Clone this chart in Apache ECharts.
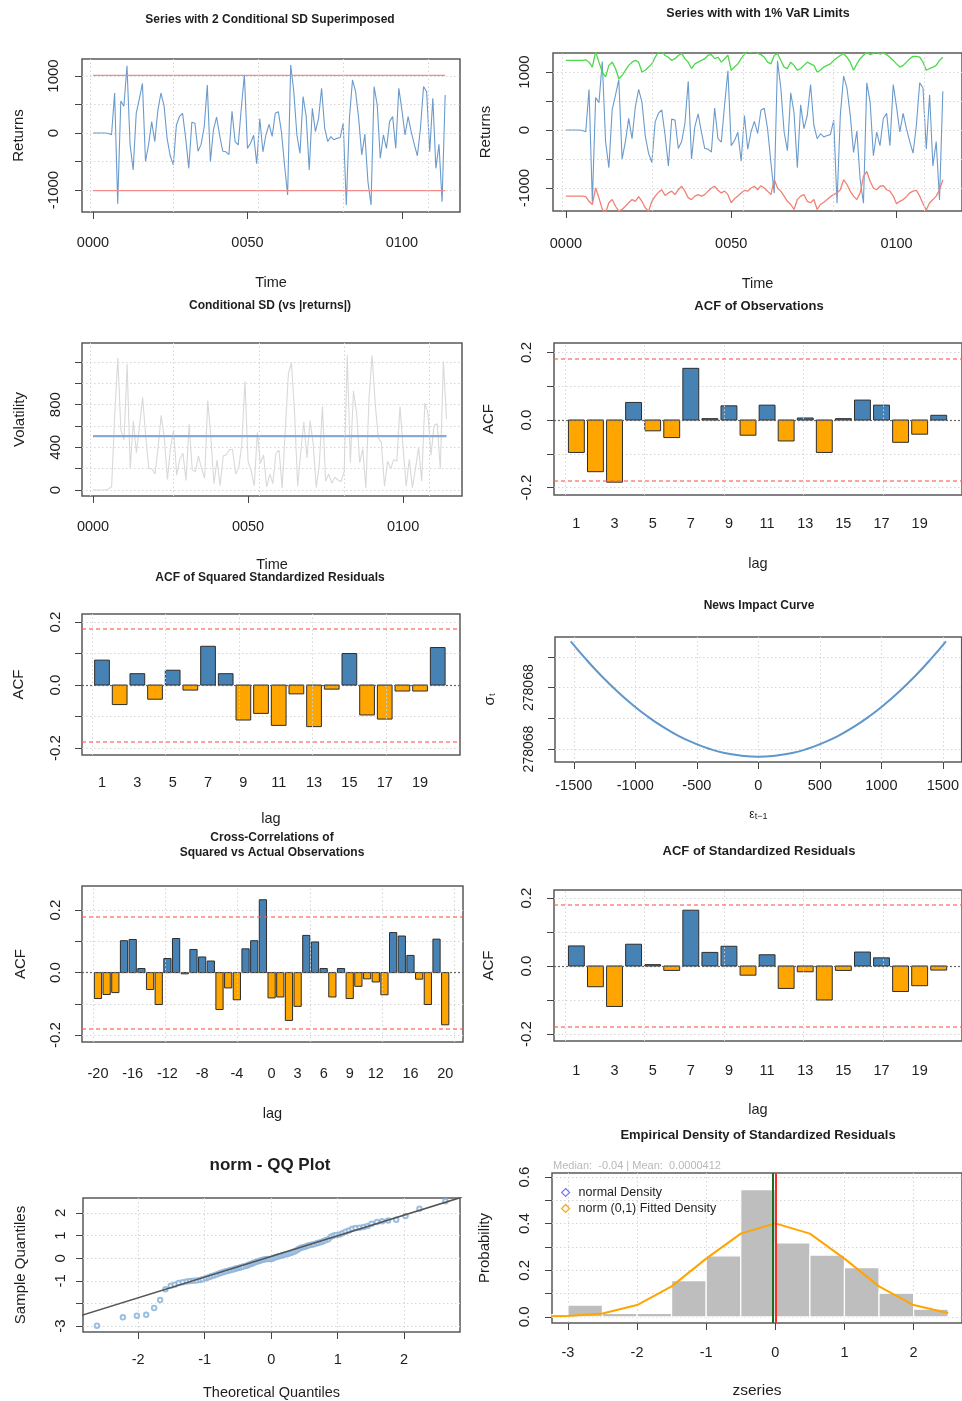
<!DOCTYPE html>
<html><head><meta charset="utf-8">
<script src="https://cdn.jsdelivr.net/npm/echarts@6/dist/echarts.min.js"></script>
<style>html,body{margin:0;padding:0;background:#fff}#c{width:962px;height:1401px}</style>
</head><body><div id="c"></div>
<script>
// ---------------- DATA ----------------
const returns = [0,0,0,0,0,-10,-30,700,-1240,560,
 470,1180,-200,-650,350,600,870,-500,-200,200,
 -150,400,700,480,-100,-400,-560,140,290,345,
 -90,-620,190,170,-320,-200,110,840,-500,60,
 280,-40,-320,-330,-380,380,-150,-210,430,1020,
 -270,-180,-40,-540,250,-330,-30,150,-60,345,
 374,20,-561,-1088,1193,725,-35,-357,640,300,
 -650,433,23,250,784,82,-150,-64,-120,-94,
 -80,170,-1263,257,930,725,257,-386,-20,-854,
 -1263,813,491,-444,-35,-269,199,287,-269,784,
 400,-35,287,23,-200,-400,82,813,725,-327,
 608,-620,-200,-1205,667];
const varUpper = [1200,1200,1200,1200,1200,1200,1210,1170,1085,1350,
 1170,1000,915,1115,1170,1060,885,940,1030,1115,
 1170,1200,1170,1000,1030,1085,1140,1255,1340,1360,
 1285,1255,1200,1230,1285,1320,1230,1170,1060,1140,
 1170,1200,1230,1290,1300,1230,1255,1170,1230,1290,
 1030,1085,1140,1230,1310,1360,1340,1380,1320,1300,
 1255,1170,1140,1285,1320,1200,1085,1060,1170,1115,
 1030,1060,1115,1170,1140,1115,1000,1030,1085,1115,
 1140,1200,1245,1285,1320,1255,1170,1030,1140,1230,
 1290,1340,1300,1320,1350,1310,1330,1300,1255,1200,
 1140,1085,1115,1170,1230,1270,1270,1255,1170,1030,
 1060,1085,1115,1200,1255];
const varLower = [-1142,-1142,-1142,-1142,-1142,-1142,-1150,-1230,-1285,-1000,
 -1170,-1370,-1430,-1255,-1200,-1315,-1400,-1370,-1315,-1255,
 -1200,-1230,-1150,-1230,-1340,-1400,-1230,-1140,-1075,-1030,
 -1130,-1085,-1055,-1115,-1030,-970,-1055,-1170,-1200,-1140,
 -1115,-1140,-1115,-1055,-1000,-970,-1040,-1085,-1055,-1115,
 -1255,-1185,-1140,-1085,-1040,-1055,-1000,-970,-1030,-960,
 -1000,-1055,-1115,-850,-1000,-1055,-1140,-1230,-1285,-1370,
 -1200,-1140,-1115,-1230,-1255,-1200,-1370,-1285,-1245,-1200,
 -1150,-1115,-1085,-1030,-857,-940,-1055,-1140,-1200,-1085,
 -800,-715,-885,-1000,-1030,-970,-960,-1030,-1055,-1140,
 -1270,-1230,-1200,-1150,-1085,-1055,-1040,-1140,-1270,-1380,
 -1255,-1200,-1140,-1030,-857];
const condSD = 505;
const timeTickValues = [0, 50, 100];
const timeGridValues = [-1, 26, 53.5, 81, 108.5];
const returnsTicks = [-1000, -500, 0, 500, 1000];
const returnsLabels = [-1000, 0, 1000];
const volTicks = [0, 200, 400, 600, 800, 1000, 1200];
const volLabels = [0, 400, 800];

const acfLags = [1,2,3,4,5,6,7,8,9,10,11,12,13,14,15,16,17,18,19,20];
const acfObs = [-0.096,-0.153,-0.184,0.052,-0.032,-0.052,0.153,0.004,0.042,-0.045,
 0.044,-0.062,0.006,-0.096,0.004,0.059,0.044,-0.066,-0.042,0.014];
const acfSqStdRes = [0.079,-0.062,0.036,-0.045,0.047,-0.016,0.123,0.036,-0.111,-0.090,
 -0.128,-0.028,-0.132,-0.013,0.100,-0.095,-0.108,-0.019,-0.019,0.119];
const acfStdRes = [0.059,-0.061,-0.119,0.064,0.004,-0.013,0.164,0.040,0.058,-0.027,
 0.033,-0.066,-0.017,-0.100,-0.013,0.041,0.024,-0.075,-0.058,-0.012];
const acfBound = 0.1828;
const acfTicks = [-0.2, -0.1, 0, 0.1, 0.2];
const acfLabels = [-0.2, 0, 0.2];
const acfLagLabels = [1,3,5,7,9,11,13,15,17,19];
const acfGridLags = [0.417, 4.583, 8.75, 12.917, 17.083];

const ccfLags = [-20,-19,-18,-17,-16,-15,-14,-13,-12,-11,-10,-9,-8,-7,-6,-5,-4,-3,-2,-1,
 0,1,2,3,4,5,6,7,8,9,10,11,12,13,14,15,16,17,18,19,20];
const ccfVals = [-0.083,-0.070,-0.064,0.102,0.106,0.013,-0.054,-0.102,0.045,0.109,
 -0.004,0.074,0.050,0.037,-0.118,-0.049,-0.087,0.076,0.102,0.233,
 -0.081,-0.078,-0.153,-0.108,0.119,0.098,0.013,-0.078,0.013,-0.083,
 -0.044,-0.020,-0.030,-0.071,0.128,0.117,0.055,-0.021,-0.102,0.107,-0.167];
const ccfLagLabels = [-20,-16,-12,-8,-4,0,3,6,9,12,16,20];
const ccfGridLags = [-20.58, -12.25, -3.92, 4.42, 12.75, 21.08];

const newsEps = [-1525,-1400,-1275,-1150,-1025,-900,-775,-650,-525,-400,-275,-150,0,
 150,275,400,525,650,775,900,1025,1150,1275,1400,1525];
const newsVar = [4.51,3.92,3.38,2.89,2.45,2.06,1.72,1.43,1.20,1.01,0.87,0.79,0.75,
 0.79,0.87,1.01,1.20,1.43,1.72,2.06,2.45,2.89,3.38,3.92,4.51];
const newsXTicks = [-1500,-1000,-500,0,500,1000,1500];
const newsYTicks = [1, 2, 3, 4];
const newsYLabels = [1, 3];
const newsYLabelText = '278068';

const qqTheo = [-2.62,-2.23,-2.02,-1.88,-1.76,-1.67,-1.59,-1.51,-1.45,-1.39,-1.33,-1.27,-1.22,-1.17,-1.12,-1.07,-1.03,-0.98,-0.94,-0.90,
 -0.86,-0.82,-0.78,-0.75,-0.71,-0.68,-0.64,-0.61,-0.57,-0.54,-0.51,-0.48,-0.45,-0.42,-0.38,-0.35,-0.32,-0.29,-0.27,-0.24,
 -0.21,-0.18,-0.15,-0.12,-0.09,-0.06,-0.03,0.00,0.03,0.06,0.09,0.12,0.15,0.18,0.21,0.24,0.27,0.30,0.33,0.36,
 0.39,0.42,0.45,0.48,0.51,0.54,0.57,0.61,0.64,0.68,0.71,0.75,0.78,0.82,0.86,0.90,0.94,0.98,1.03,1.07,
 1.12,1.17,1.22,1.27,1.33,1.39,1.45,1.51,1.59,1.67,1.76,1.88,2.02,2.23,2.62];
const qqSample = [-2.98,-2.61,-2.54,-2.50,-2.20,-1.85,-1.37,-1.22,-1.17,-1.10,-1.06,-1.03,-1.01,-1.00,-0.98,-0.96,-0.93,-0.88,-0.84,-0.80,
 -0.76,-0.72,-0.68,-0.64,-0.61,-0.58,-0.55,-0.52,-0.50,-0.47,-0.44,-0.42,-0.40,-0.37,-0.34,-0.31,-0.27,-0.24,-0.21,-0.18,
 -0.15,-0.12,-0.09,-0.07,-0.05,-0.04,-0.04,-0.03,0.00,0.04,0.07,0.09,0.11,0.14,0.16,0.19,0.21,0.24,0.27,0.31,
 0.36,0.42,0.46,0.48,0.51,0.54,0.57,0.60,0.62,0.65,0.68,0.71,0.75,0.79,0.84,0.95,1.00,1.02,1.05,1.10,
 1.17,1.22,1.30,1.33,1.35,1.38,1.42,1.52,1.60,1.63,1.67,1.70,1.86,2.18,2.52];
const qqLineEnds = [[-3, -2.66], [3, 2.82]];
const qqXTicks = [-2,-1,0,1,2];
const qqYTicks = [-3,-2,-1,0,1,2];
const qqYLabels = [-3,-1,0,1,2];

const histEdges = [-3.5,-3,-2.5,-2,-1.5,-1,-0.5,0,0.5,1,1.5,2,2.5];
const histDensity = [0.010,0.051,0.015,0.015,0.156,0.262,0.546,0.317,0.265,0.211,0.102,0.033];
const fitX = [-3.5,-3,-2.5,-2,-1.5,-1,-0.5,0,0.5,1,1.5,2,2.5];
const fitY = [0.001,0.004,0.015,0.051,0.131,0.250,0.357,0.401,0.357,0.250,0.131,0.051,0.017];
const medianZ = -0.04, meanZ = 0.0000412;
const histXTicks = [-3,-2,-1,0,1,2];
const histYTicks = [0,0.1,0.2,0.3,0.4,0.5,0.6];
const histYLabels = [0,0.2,0.4,0.6];

// ---------------- STYLE / LAYOUT ----------------
const FONT = '"Liberation Sans", Arial, Helvetica, sans-serif';
const TXT = '#1e1e1e';
const GRIDC = '#d4d4d4';
const BLUE = '#4682b4', ORANGE = '#ffa500';
const dotted = {color: GRIDC, type: [1.5, 2.5], width: 1};

const gridBoxes = [
  [82,59,378,153],[553,53,412,158],
  [82,343,380,153],[554,343,414,152],
  [82,614,378,141],[555,637,410,125],
  [82,886,381,156],[554,890,414,151],
  [83,1198,377,135],[552,1173,414,150]
];
const grids = gridBoxes.map(([l,t,w,h]) => ({left:l, top:t, width:w, height:h, show:true,
  borderColor:'#5a5a5a', borderWidth:1.5, backgroundColor:'#fff'}));

const has = (list, v) => list.some(l => Math.abs(l - v) < 1e-7);
function xAx(gi, min, max, o) {
  return {type:'value', gridIndex:gi, min, max, position:'bottom',
    axisLine:{show:false, onZero:false},
    axisTick:{show: !!o.ticks, customValues: o.ticks, length:7, inside:false, lineStyle:{color:'#444', width:1}},
    axisLabel:{customValues:o.labels, formatter:(v)=> has(o.labels, v) ? o.fmt(v) : '',
      margin:o.margin, fontSize:o.fs || 14.5, color:TXT, fontFamily:FONT, hideOverlap:false},
    splitLine:{show: !!o.split, lineStyle: dotted},
    name:o.name, nameLocation:'middle', nameGap:o.nameGap,
    nameTextStyle:Object.assign({fontSize:o.nfs || 14.5, color:TXT, fontFamily:FONT}, o.nts || {})};
}
function yAx(gi, min, max, o) {
  return {type:'value', gridIndex:gi, min, max, position:'left',
    axisLine:{show:false, onZero:false},
    axisTick:{show:true, customValues:o.ticks, length:7, inside:false, lineStyle:{color:'#444', width:1}},
    axisLabel:{customValues:o.labels, formatter:(v)=> has(o.labels, v) ? o.fmt(v) : '',
      rotate:90, margin:o.margin, fontSize:o.fs || 15, color:TXT, fontFamily:FONT, hideOverlap:false},
    splitLine:{show:true, lineStyle: dotted},
    name:o.name, nameLocation:'middle', nameGap:o.nameGap,
    nameTextStyle:Object.assign({fontSize:15, color:TXT, fontFamily:FONT}, o.nts || {})};
}
const pad4 = v => String(Math.round(v)).padStart(4, '0');
const int = v => String(Math.round(v));
const f1 = v => (Math.abs(v) < 1e-9 ? 0 : v).toFixed(1);

const xAxes = [
  xAx(0, -3.56, 118.8, {ticks:timeTickValues, labels:timeTickValues, fmt:pad4, margin:23, name:'Time', nameGap:63}),
  xAx(1, -3.9, 119.8, {ticks:timeTickValues, labels:timeTickValues, fmt:pad4, margin:25, name:'Time', nameGap:65}),
  xAx(2, -3.55, 119.0, {ticks:timeTickValues, labels:timeTickValues, fmt:pad4, margin:23, name:'Time', nameGap:61}),
  xAx(3, -0.173, 21.22, {labels:acfLagLabels, fmt:int, margin:21, name:'lag', nameGap:61}),
  xAx(4, -0.132, 21.26, {labels:acfLagLabels, fmt:int, margin:20, name:'lag', nameGap:56}),
  xAx(5, -1653, 1653, {ticks:newsXTicks, labels:newsXTicks, fmt:int, margin:16, split:true,
     name:'ε{s|t−1}', nameGap:47, nfs:12, nts:{rich:{s:{fontSize:9, verticalAlign:'bottom', fontFamily:FONT, color:TXT}}}}),
  xAx(6, -21.84, 22.05, {labels:ccfLagLabels, fmt:int, margin:24, name:'lag', nameGap:64}),
  xAx(7, -0.173, 21.22, {labels:acfLagLabels, fmt:int, margin:22, name:'lag', nameGap:61}),
  xAx(8, -2.83, 2.84, {ticks:qqXTicks, labels:qqXTicks, fmt:int, margin:20, split:true, name:'Theoretical Quantiles', nameGap:53}),
  xAx(9, -3.23, 2.70, {ticks:histXTicks, labels:histXTicks, fmt:int, margin:22, split:true, name:'zseries', nameGap:60, nfs:15.5})
];
const yAxes = [
  yAx(0, -1386, 1298, {ticks:returnsTicks, labels:returnsLabels, fmt:int, margin:21, name:'Returns', nameGap:56}),
  yAx(1, -1397, 1328, {ticks:returnsTicks, labels:returnsLabels, fmt:int, margin:21, name:'Returns', nameGap:60}),
  yAx(2, -56, 1378, {ticks:volTicks, labels:volLabels, fmt:int, margin:19, name:'Volatility', nameGap:55}),
  yAx(3, -0.222, 0.228, {ticks:acfTicks, labels:acfLabels, fmt:f1, margin:20, name:'ACF', nameGap:58}),
  yAx(4, -0.222, 0.2254, {ticks:acfTicks, labels:acfLabels, fmt:f1, margin:19, name:'ACF', nameGap:56}),
  yAx(5, 0.577, 4.65, {ticks:newsYTicks, labels:newsYLabels, fmt:()=>newsYLabelText, margin:19, fs:14,
     name:'σ{s|t}', nameGap:58, nts:{rich:{s:{fontSize:9, verticalAlign:'bottom', fontFamily:FONT, color:TXT}}}}),
  yAx(6, -0.222, 0.277, {ticks:acfTicks, labels:acfLabels, fmt:f1, margin:19, name:'ACF', nameGap:54}),
  yAx(7, -0.2206, 0.2235, {ticks:acfTicks, labels:acfLabels, fmt:f1, margin:20, name:'ACF', nameGap:58}),
  yAx(8, -3.26, 2.66, {ticks:qqYTicks, labels:qqYLabels, fmt:int, margin:15, name:'Sample Quantiles', nameGap:55}),
  yAx(9, -0.026, 0.617, {ticks:histYTicks, labels:histYLabels, fmt:f1, margin:20, name:'Probability', nameGap:60})
];

function vGrid(gi, values) {
  return {type:'line', xAxisIndex:gi, yAxisIndex:gi, data:[], silent:true, z:1,
    markLine:{silent:true, symbol:'none', label:{show:false}, lineStyle:dotted, animation:false,
      data: values.map(v => ({xAxis:v}))}};
}
function acfBars(gi, lags, vals) {
  const hw = 0.5 / 1.2;
  return {type:'custom', xAxisIndex:gi, yAxisIndex:gi, z:3,
    data: lags.map((l, i) => [l, vals[i]]), encode:{x:0, y:1},
    renderItem:(params, api) => {
      const x = api.value(0), y = api.value(1);
      const p0 = api.coord([x - hw, y]), p1 = api.coord([x + hw, 0]);
      return {type:'rect', shape:{x:p0[0], y:Math.min(p0[1], p1[1]), width:p1[0]-p0[0], height:Math.abs(p1[1]-p0[1])},
        style:{fill: y >= 0 ? BLUE : ORANGE, stroke:'#2e2e2e', lineWidth:1}};
    }};
}
const RED_DASH = {color:'#ff5a52', type:[4,3], width:1.5, opacity:0.75};
const ZERO_DOT = {color:'#666', type:[2,2], width:1.2};
function hMark(gi, value, style) {
  return {type:'line', xAxisIndex:gi, yAxisIndex:gi, data:[], silent:true, z:5,
    markLine:{silent:true, symbol:'none', label:{show:false}, animation:false, lineStyle:style,
      data:[{yAxis:value}]}};
}
function acfMarks(gi, bound) {
  return [hMark(gi, bound, RED_DASH), hMark(gi, -bound, RED_DASH), hMark(gi, 0, ZERO_DOT)];
}
const line = (gi, data, color, width, extra) => Object.assign({type:'line', xAxisIndex:gi, yAxisIndex:gi,
  data, showSymbol:false, symbol:'none', lineStyle:{color, width}, itemStyle:{color}, silent:true, z:3}, extra || {});

const n = returns.length;
const series = [
  // P1
  vGrid(0, timeGridValues),
  line(0, returns.map((v,i)=>[i,v]), '#6a9bcc', 1.1),
  line(0, [[0, 2*condSD],[n-1, 2*condSD]], '#f48a8a', 1.2),
  line(0, [[0, -2*condSD],[n-1, -2*condSD]], '#f48a8a', 1.2),
  // P2
  vGrid(1, timeGridValues),
  line(1, returns.map((v,i)=>[i,v]), '#6a9bcc', 1.1),
  line(1, varUpper.map((v,i)=>[i,v]), '#4cd94c', 1.3),
  line(1, varLower.map((v,i)=>[i,v]), '#ef8276', 1.3),
  // P3
  vGrid(2, timeGridValues),
  line(2, returns.map((v,i)=>[i,Math.abs(v)]), '#d9d9d9', 1.1),
  line(2, [[0, condSD],[n-1, condSD]], '#86acd4', 2.2),
  // P4
  vGrid(3, acfGridLags), acfBars(3, acfLags, acfObs), ...acfMarks(3, acfBound),
  // P5
  vGrid(4, acfGridLags), acfBars(4, acfLags, acfSqStdRes), ...acfMarks(4, acfBound),
  // P6
  line(5, newsEps.map((v,i)=>[v,newsVar[i]]), '#5f97cc', 2, {smooth:true}),
  // P7
  vGrid(6, ccfGridLags), acfBars(6, ccfLags, ccfVals), ...acfMarks(6, acfBound),
  // P8
  vGrid(7, acfGridLags), acfBars(7, acfLags, acfStdRes), ...acfMarks(7, acfBound),
  // P9
  line(8, qqLineEnds, '#555', 1.6, {z:4}),
  {type:'scatter', xAxisIndex:8, yAxisIndex:8, data:qqTheo.map((v,i)=>[v,qqSample[i]]), symbol:'emptyCircle',
    symbolSize:4.5, itemStyle:{color:'#8db4dc', borderColor:'#8db4dc', borderWidth:1, opacity:0.85}, silent:true, z:3},
  // P10
  {type:'custom', xAxisIndex:9, yAxisIndex:9, z:2, silent:true,
    data: histDensity.map((h,i)=>[histEdges[i], histEdges[i+1], h]), encode:{x:[0,1], y:2},
    renderItem:(params, api) => {
      const p0 = api.coord([api.value(0), api.value(2)]), p1 = api.coord([api.value(1), 0]);
      const shape = echarts.graphic.clipRectByRect({x:p0[0], y:p0[1], width:p1[0]-p0[0], height:p1[1]-p0[1]},
        {x:params.coordSys.x, y:params.coordSys.y, width:params.coordSys.width, height:params.coordSys.height});
      return shape && {type:'rect', shape, style:{fill:'#bebebe', stroke:'#fff', lineWidth:1.2}};
    }},
  line(9, [], '#7777ff', 1, {name:'normal Density'}),
  line(9, fitX.map((v,i)=>[v,fitY[i]]), ORANGE, 2, {name:'norm (0,1) Fitted Density', z:4}),
  {type:'line', xAxisIndex:9, yAxisIndex:9, data:[], silent:true, z:6,
    markLine:{silent:true, symbol:'none', label:{show:false}, animation:false,
      data:[{xAxis:medianZ, lineStyle:{color:'#1b6e1b', type:'solid', width:2}},
            {xAxis:meanZ, lineStyle:{color:'#ff2b2b', type:'solid', width:2}}]}}
];

function title(x, y, text, size) {
  return {type:'text', x, y, silent:true,
    style:{text, font:`bold ${size}px ${FONT}`, fill:TXT, align:'center', verticalAlign:'middle',
      textAlign:'center', textVerticalAlign:'middle'}};
}
const graphics = [
  title(270, 20, 'Series with 2 Conditional SD Superimposed', 12),
  title(758, 14, 'Series with with 1% VaR Limits', 12.5),
  title(270, 306, 'Conditional SD (vs |returns|)', 12),
  title(759, 306, 'ACF of Observations', 13),
  title(270, 578, 'ACF of Squared Standardized Residuals', 12),
  title(759, 606, 'News Impact Curve', 12),
  title(272, 838, 'Cross-Correlations of', 12),
  title(272, 853, 'Squared vs Actual Observations', 12),
  title(759, 851, 'ACF of Standardized Residuals', 13),
  title(270, 1165, 'norm - QQ Plot', 17),
  title(758, 1135, 'Empirical Density of Standardized Residuals', 13),
  {type:'text', x:553, y:1166, silent:true,
   style:{text:'Median:  -0.04 | Mean:  0.0000412', font:`11px ${FONT}`, fill:'#b8b8b8',
     align:'left', verticalAlign:'middle', textAlign:'left', textVerticalAlign:'middle'}}
];

const chart = echarts.init(document.getElementById('c'), null, {renderer:'canvas', width:962, height:1401});
chart.setOption({
  animation:false,
  backgroundColor:'#fff',
  textStyle:{fontFamily:FONT},
  grid:grids, xAxis:xAxes, yAxis:yAxes, series,
  graphic:graphics,
  legend:{left:556, top:1181, orient:'vertical', itemWidth:8, itemHeight:8, itemGap:3,
    textStyle:{fontSize:12.5, color:TXT, fontFamily:FONT, padding:[0,0,0,4]},
    selectedMode:false,
    data:[{name:'normal Density', icon:'diamond', itemStyle:{color:'#fff', borderColor:'#7777ff', borderWidth:1.2}},
          {name:'norm (0,1) Fitted Density', icon:'diamond', itemStyle:{color:'#fff', borderColor:ORANGE, borderWidth:1.2}}]}
});
</script></body></html>
